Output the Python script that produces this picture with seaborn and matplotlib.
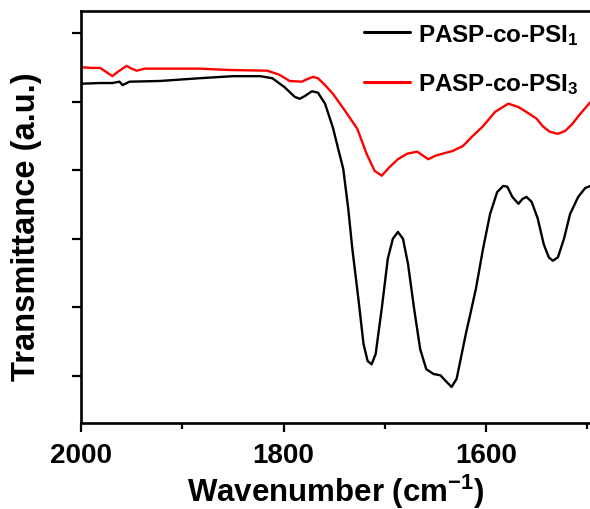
import numpy as np
import pandas as pd
import matplotlib
matplotlib.use("Agg")
import matplotlib.pyplot as plt
import seaborn as sns
from matplotlib.ticker import MultipleLocator

# ---- data ----
wn_psi1 = [2000, 1981, 1969, 1962, 1959, 1952, 1922, 1883, 1850, 1823, 1811, 1799, 1789,
           1784, 1779, 1772, 1766, 1759, 1751, 1746, 1741, 1736, 1732, 1726, 1721, 1717,
           1713, 1709, 1703, 1697, 1692, 1687, 1682, 1677, 1671, 1665, 1659, 1652, 1645,
           1640, 1634, 1629, 1624, 1620, 1616, 1610, 1603, 1596, 1589, 1583, 1579, 1574,
           1568, 1564, 1560, 1555, 1549, 1543, 1538, 1534, 1529, 1523, 1517, 1509, 1502, 1497]
tr_psi1 = [4.26, 4.27, 4.27, 4.29, 4.24, 4.29, 4.30, 4.34, 4.37, 4.37, 4.34, 4.21, 4.07,
           4.04, 4.08, 4.15, 4.13, 3.97, 3.61, 3.31, 3.02, 2.43, 1.85, 1.12, 0.47, 0.22,
           0.17, 0.32, 0.98, 1.71, 2.00, 2.10, 2.00, 1.63, 0.98, 0.39, 0.10, 0.03, 0.01,
           -0.07, -0.16, -0.04, 0.32, 0.61, 0.87, 1.27, 1.85, 2.36, 2.68, 2.77, 2.76, 2.61,
           2.51, 2.58, 2.61, 2.54, 2.30, 1.92, 1.73, 1.68, 1.73, 2.00, 2.36, 2.61, 2.74, 2.77]

wn_psi3 = [2000, 1989, 1981, 1975, 1969, 1964, 1955, 1950, 1945, 1937, 1912, 1883, 1853,
           1816, 1804, 1794, 1782, 1776, 1771, 1766, 1759, 1751, 1739, 1727, 1718, 1710,
           1703, 1695, 1687, 1678, 1668, 1662, 1657, 1650, 1643, 1633, 1623, 1613, 1603,
           1591, 1578, 1568, 1557, 1550, 1544, 1537, 1529, 1522, 1515, 1507, 1497]
tr_psi3 = [4.50, 4.49, 4.49, 4.43, 4.37, 4.43, 4.52, 4.48, 4.45, 4.48, 4.48, 4.48, 4.46,
           4.45, 4.39, 4.30, 4.29, 4.33, 4.36, 4.34, 4.24, 4.11, 3.86, 3.60, 3.24, 2.99,
           2.92, 3.05, 3.16, 3.24, 3.27, 3.21, 3.16, 3.21, 3.24, 3.28, 3.35, 3.50, 3.64,
           3.85, 3.97, 3.92, 3.82, 3.75, 3.64, 3.56, 3.53, 3.57, 3.67, 3.82, 3.99]

labels = ["PASP-co-PSI$_1$", "PASP-co-PSI$_3$"]
x_ticks = [2000, 1800, 1600]

df = pd.concat([
    pd.DataFrame({"wn": wn_psi1, "tr": tr_psi1, "sample": labels[0]}),
    pd.DataFrame({"wn": wn_psi3, "tr": tr_psi3, "sample": labels[1]}),
], ignore_index=True)

sns.set_style("ticks")
plt.rcParams["font.family"] = ["Liberation Sans", "DejaVu Sans"]
plt.rcParams["font.weight"] = "bold"
plt.rcParams["mathtext.fontset"] = "custom"
plt.rcParams["mathtext.rm"] = "Liberation Sans:bold"
plt.rcParams["mathtext.it"] = "Liberation Sans:bold"
plt.rcParams["mathtext.bf"] = "Liberation Sans:bold"
plt.rcParams["mathtext.default"] = "rm"
for k in ["axes.edgecolor", "xtick.color", "ytick.color", "text.color",
          "axes.labelcolor", "xtick.labelcolor", "ytick.labelcolor"]:
    plt.rcParams[k] = "black"

fig = plt.figure(figsize=(5.9, 5.1), dpi=100)
ax = fig.add_axes([81 / 590, 1 - 424 / 510, 1 - 81 / 590, (424 - 12) / 510])

sns.lineplot(data=df, x="wn", y="tr", hue="sample", palette=["black", "red"],
             sort=False, estimator=None, linewidth=1.7, ax=ax)

ax.set_xlim(2000, 1497.3)
ax.set_ylim(-0.685, 5.32)
ax.set_xticks(x_ticks)
ax.set_xticklabels([str(t) for t in x_ticks])
ax.xaxis.set_minor_locator(MultipleLocator(100))
ax.set_yticks([0, 1, 2, 3, 4, 5])
ax.set_yticklabels([])

for s in ["left", "bottom", "top"]:
    ax.spines[s].set_linewidth(1.9)
ax.spines["right"].set_visible(False)

ax.tick_params(axis="both", which="major", direction="out", length=6.5, width=1.6,
               labelsize=20, pad=7)
ax.tick_params(axis="x", which="minor", direction="out", length=4, width=1.6)
ax.tick_params(axis="x", top=False)

ax.set_xlabel("Wavenumber (cm$^{-1}$)", fontsize=22.5, fontweight="bold", labelpad=3)
ax.set_ylabel("Transmittance (a.u.)", fontsize=23.5, fontweight="bold")
ax.yaxis.set_label_coords(-0.076, 0.48)

leg = ax.legend(loc="upper right", frameon=False, fontsize=17.5, handlelength=1.9,
                handletextpad=0.35, labelspacing=1.0, borderaxespad=0.1,
                borderpad=0.35, bbox_to_anchor=(1.0, 1.0))
for line in leg.get_lines():
    line.set_linewidth(2.2)

fig.savefig("out.png", dpi=100)
